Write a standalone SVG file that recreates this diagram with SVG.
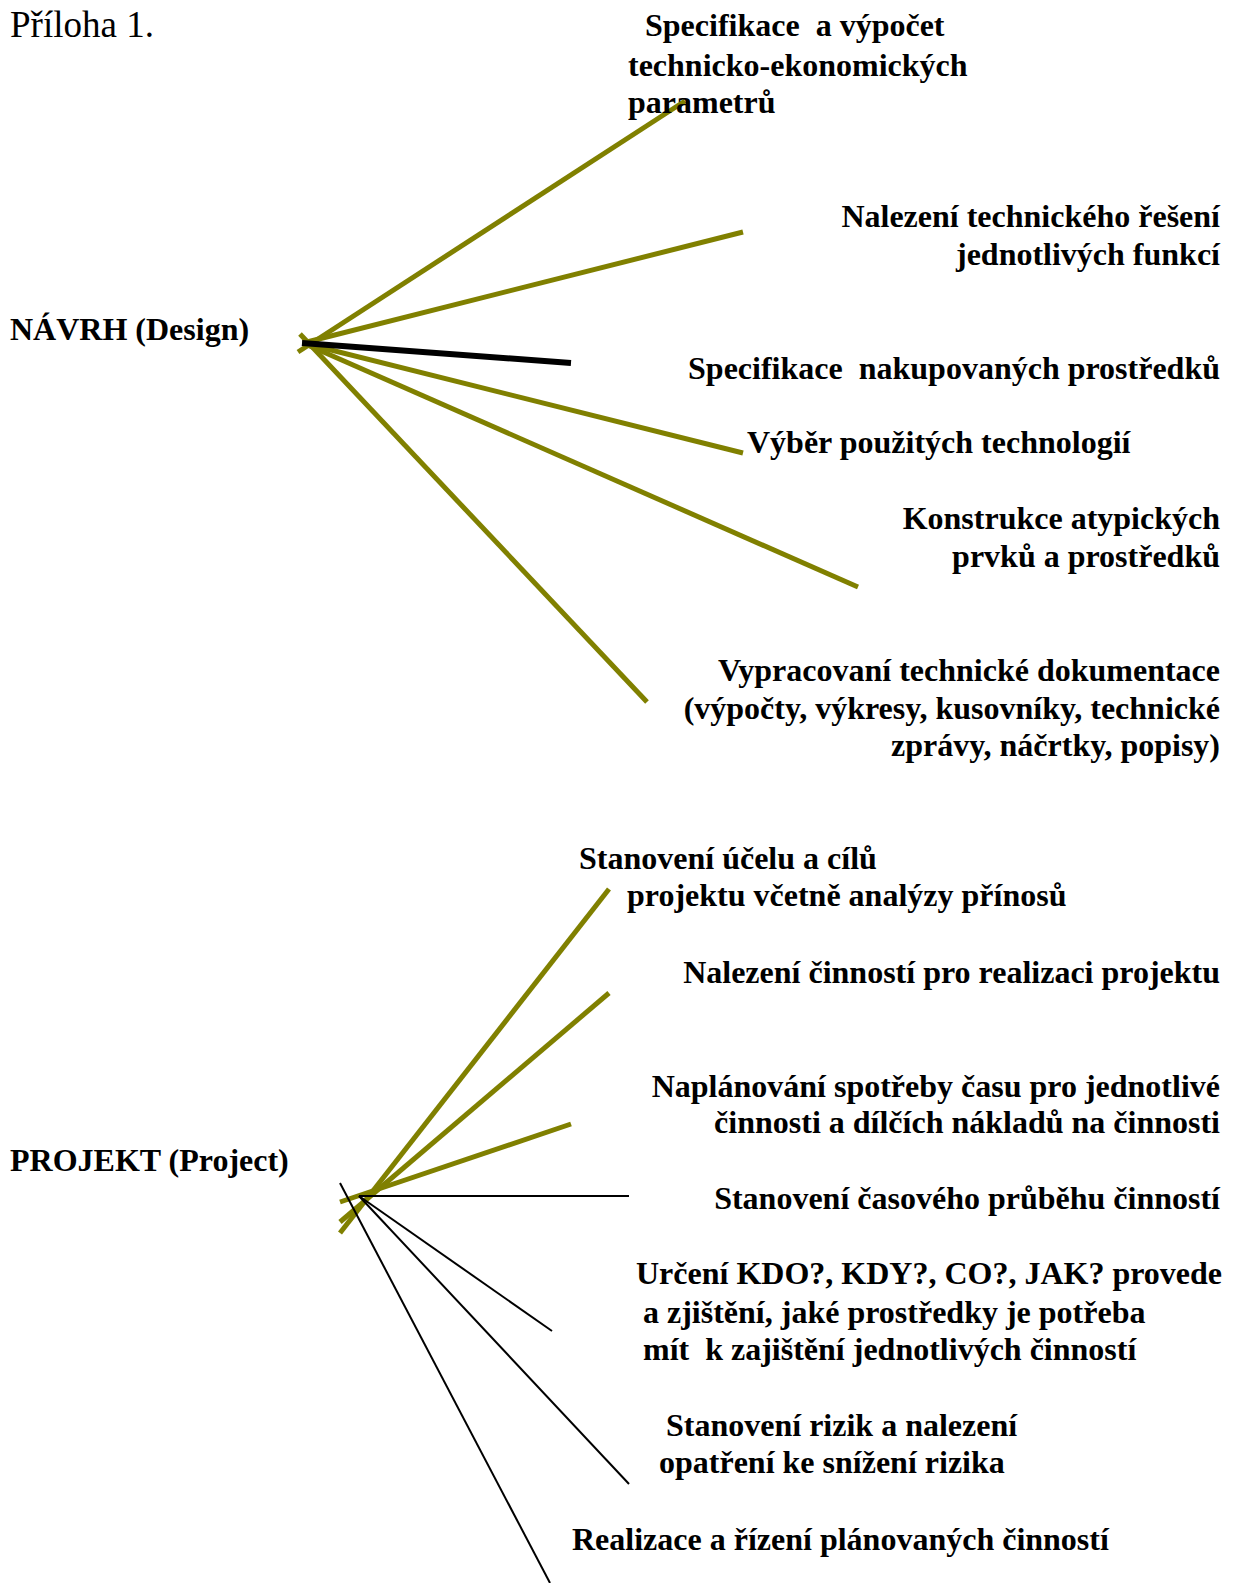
<svg xmlns="http://www.w3.org/2000/svg" width="1233" height="1583" viewBox="0 0 1233 1583">
<style>
.t{font-family:"Liberation Serif","Times New Roman",serif;font-weight:bold;font-size:32px;fill:#000}
.r{text-anchor:end}
.ol{stroke:#808000;stroke-width:5;fill:none}
.bk{stroke:#000;fill:none}
</style>
<rect width="1233" height="1583" fill="#fff"/>
<text x="10" y="37" font-family="Liberation Serif, serif" font-size="37" fill="#000">Příloha 1.</text>
<g id="connectors">
<line class="ol" x1="298" y1="352" x2="685" y2="101"/>
<line class="ol" x1="303" y1="343" x2="743" y2="232"/>
<line class="ol" x1="303" y1="343" x2="743" y2="453"/>
<line class="ol" x1="303" y1="343" x2="858" y2="587"/>
<line class="ol" x1="300" y1="334" x2="647" y2="702"/>
<line class="bk" stroke-width="6" x1="302" y1="343" x2="571" y2="363"/>
<line class="ol" x1="340" y1="1233" x2="609" y2="889"/>
<line class="ol" x1="340" y1="1222" x2="609" y2="993"/>
<line class="ol" x1="340" y1="1202" x2="571" y2="1124"/>
<line class="bk" stroke-width="2" x1="359" y1="1196" x2="629" y2="1196"/>
<line class="bk" stroke-width="2" x1="340" y1="1183" x2="550" y2="1583"/>
<line class="bk" stroke-width="2" x1="359" y1="1196" x2="552" y2="1331"/>
<line class="bk" stroke-width="2" x1="359" y1="1196" x2="629" y2="1484"/>
</g>
<g id="navrh"><text class="t" x="10" y="340">NÁVRH (Design)</text></g>
<g id="n1"><text class="t" xml:space="preserve"><tspan x="645" y="36">Specifikace  a výpočet</tspan><tspan x="628" y="76">technicko-ekonomických</tspan><tspan x="628" y="113">parametrů</tspan></text></g>
<g id="n2"><text class="t r"><tspan x="1220" y="227">Nalezení technického řešení</tspan><tspan x="1220" y="265">jednotlivých funkcí</tspan></text></g>
<g id="n3"><text class="t r" xml:space="preserve" x="1220" y="379">Specifikace  nakupovaných prostředků</text></g>
<g id="n4"><text class="t" x="747" y="453">Výběr použitých technologií</text></g>
<g id="n5"><text class="t r"><tspan x="1220" y="529">Konstrukce atypických</tspan><tspan x="1220" y="567">prvků a prostředků</tspan></text></g>
<g id="n6"><text class="t r"><tspan x="1220" y="681">Vypracovaní technické dokumentace</tspan><tspan x="1220" y="719">(výpočty, výkresy, kusovníky, technické</tspan><tspan x="1220" y="756">zprávy, náčrtky, popisy)</tspan></text></g>
<g id="projekt"><text class="t" x="10" y="1171">PROJEKT (Project)</text></g>
<g id="p1"><text class="t"><tspan x="579" y="869">Stanovení účelu a cílů</tspan><tspan x="627" y="906">projektu včetně analýzy přínosů</tspan></text></g>
<g id="p2"><text class="t r" x="1220" y="983">Nalezení činností pro realizaci projektu</text></g>
<g id="p3"><text class="t r"><tspan x="1220" y="1097">Naplánování spotřeby času pro jednotlivé</tspan><tspan x="1220" y="1133">činnosti a dílčích nákladů na činnosti</tspan></text></g>
<g id="p4"><text class="t r" x="1220" y="1209">Stanovení časového průběhu činností</text></g>
<g id="p5"><text class="t" xml:space="preserve"><tspan x="636" y="1284">Určení KDO?, KDY?, CO?, JAK? provede</tspan><tspan x="643" y="1323">a zjištění, jaké prostředky je potřeba</tspan><tspan x="643" y="1360">mít  k zajištění jednotlivých činností</tspan></text></g>
<g id="p6"><text class="t"><tspan x="666" y="1436">Stanovení rizik a nalezení</tspan><tspan x="659" y="1473">opatření ke snížení rizika</tspan></text></g>
<g id="p7"><text class="t" x="572" y="1550">Realizace a řízení plánovaných činností</text></g>
</svg>
